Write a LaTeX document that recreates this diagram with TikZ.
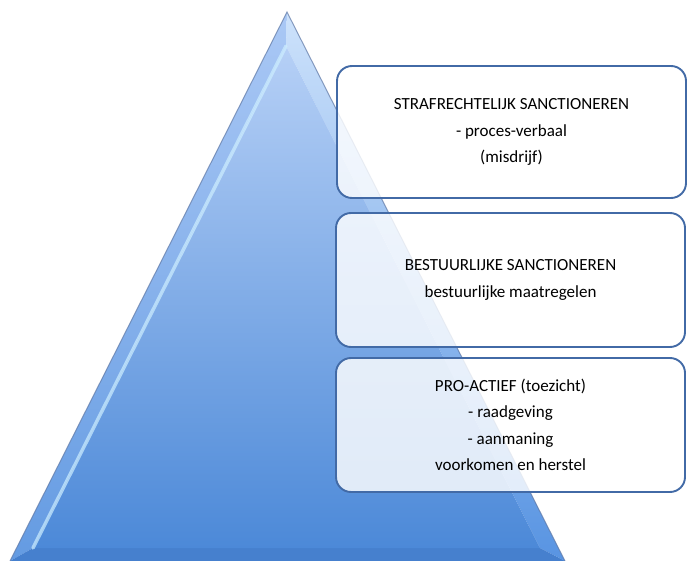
\documentclass[tikz,border=0pt]{standalone}
\usepackage{fontspec}
\setmainfont{Carlito}
\definecolor{faceTop}{RGB}{182,208,246}
\definecolor{faceBot}{RGB}{76,137,216}
\definecolor{leftTop}{RGB}{170,200,245}
\definecolor{leftBot}{RGB}{100,155,226}
\definecolor{rightTop}{RGB}{205,226,251}
\definecolor{rightBot}{RGB}{88,148,226}
\definecolor{bottomFace}{RGB}{70,128,206}
\definecolor{edgeLine}{RGB}{95,120,165}
\definecolor{glint}{RGB}{205,238,255}
\definecolor{boxLine}{RGB}{66,106,166}
\begin{document}
\begin{tikzpicture}[x=1pt,y=-1pt,
  levelbox/.style={draw=boxLine, line width=1.9pt, rounded corners=15pt,
    fill=white, fill opacity=0.82, text opacity=1,
    minimum width=349pt, align=center,
    font=\fontsize{17}{26.5}\selectfont},
]
\useasboundingbox (0,0) rectangle (688,561);
% pyramid corners
\coordinate (A) at (287,12);
\coordinate (B) at (10,561);
\coordinate (C) at (565,561);
\coordinate (a) at (286,46);
\coordinate (b) at (33,548);
\coordinate (c) at (540,548);
% faces
\shade[top color=leftTop, bottom color=leftBot] (A) -- (B) -- (b) -- (a) -- cycle;
\shade[top color=rightTop, bottom color=rightBot] (A) -- (a) -- (c) -- (C) -- cycle;
\fill[bottomFace] (B) -- (C) -- (c) -- (b) -- cycle;
\shade[top color=faceTop, bottom color=faceBot] (a) -- (b) -- (c) -- cycle;
\draw[glint, line width=3.5pt, opacity=0.7, line cap=round] (a) -- (b);
\draw[edgeLine, line width=1pt, opacity=0.7] (B) -- (A) -- (C);
% level boxes
\node[levelbox, minimum height=132pt] (top) at (511.5,132)
  {STRAFRECHTELIJK SANCTIONEREN\\- proces-verbaal\\(misdrijf)};
\node[levelbox, minimum height=134pt] (mid) at (510.5,280)
  {BESTUURLIJKE SANCTIONEREN\\bestuurlijke maatregelen};
\node[levelbox, minimum height=134pt] (bot) at (510.5,425)
  {PRO-ACTIEF (toezicht)\\- raadgeving\\- aanmaning\\voorkomen en herstel};
\end{tikzpicture}
\end{document}
